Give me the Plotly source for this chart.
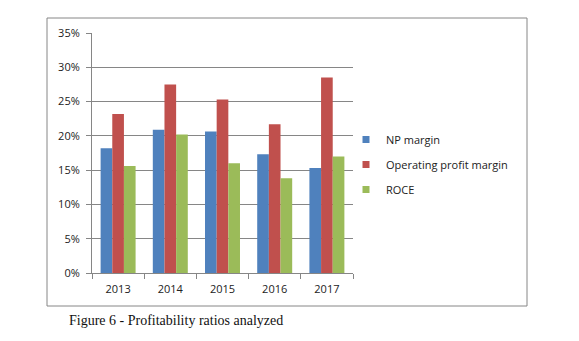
import plotly.graph_objects as go

years = ["2013", "2014", "2015", "2016", "2017"]
np_margin = [18.2, 20.9, 20.65, 17.3, 15.3]
op_margin = [23.2, 27.5, 25.3, 21.7, 28.5]
roce = [15.6, 20.2, 16.0, 13.8, 17.0]
series_names = ["NP margin", "Operating profit margin", "ROCE"]
colors = ["#4F81BD", "#C0504D", "#9BBB59"]

fig = go.Figure()
for i, (name, vals) in enumerate(zip(series_names, [np_margin, op_margin, roce])):
    fig.add_trace(go.Bar(x=years, y=vals, name=name, marker_color=colors[i],
                         marker_line_width=0, legendgroup=name, showlegend=False))
    # legend-only entry with a small square swatch
    fig.add_trace(go.Scatter(x=[None], y=[None], mode="markers", name=name,
                             marker=dict(symbol="square", size=7, color=colors[i]),
                             legendgroup=name, showlegend=True, hoverinfo="skip"))

W, H = 579, 341
L, R, T, B = 92, 353, 33, 273
pw, ph = R - L, B - T

def px(x):
    return (x - L) / pw

def py(y):
    return (B - y) / ph

fig.update_layout(
    width=W, height=H,
    margin=dict(l=L, r=W - R, t=T, b=H - B),
    paper_bgcolor="white", plot_bgcolor="white",
    barmode="group", bargap=0.33, bargroupgap=0,
    font=dict(family="Open Sans", size=10, color="#222"),
    showlegend=True,
    legend=dict(x=px(346), y=py(125), xanchor="left", yanchor="top",
                traceorder="grouped", tracegroupgap=6,
                font=dict(size=11, color="#222"),
                itemwidth=30, bgcolor="rgba(0,0,0,0)"),
    xaxis=dict(showgrid=False, showline=True, linecolor="#868686", linewidth=1,
               ticks="outside", tickson="boundaries", ticklen=5, tickcolor="#868686",
               tickfont=dict(size=11), fixedrange=True, ticklabelstandoff=6),
    yaxis=dict(range=[0, 35], dtick=5, ticksuffix="%", showgrid=True,
               gridcolor="#868686", gridwidth=1, showline=True, linecolor="#868686",
               ticks="outside", ticklen=5, tickcolor="#868686",
               tickfont=dict(size=11), zeroline=False, ticklabelstandoff=4),
    shapes=[dict(type="rect", xref="paper", yref="paper",
                 x0=px(47), x1=px(527), y0=py(306), y1=py(18),
                 line=dict(color="#868686", width=1), fillcolor="rgba(0,0,0,0)",
                 layer="below")],
    annotations=[dict(text="Figure 6 - Profitability ratios analyzed", xref="paper", yref="paper",
                      x=px(67), y=py(320), xanchor="left", yanchor="middle", showarrow=False,
                      font=dict(family="Liberation Serif", size=14, color="#111"))],
)

fig.write_html("out.html")
